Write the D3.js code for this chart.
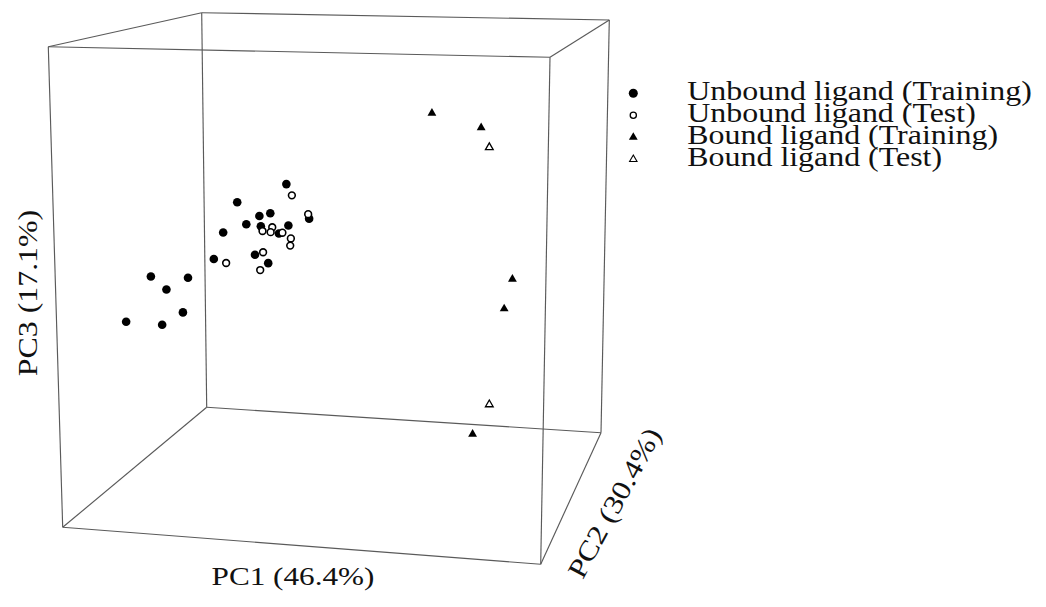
<!DOCTYPE html>
<html><head><meta charset="utf-8">
<script src="https://cdn.jsdelivr.net/npm/d3@7"></script>
<style>
  body { margin: 0; background: #fff; }
  svg text { font-family: 'Liberation Serif', 'Times New Roman', serif; fill: #111; }
</style>
</head><body>
<svg id="chart" width="1046" height="607"></svg>
<script>
// PCA scores [PC1, PC2, PC3] per group
const unboundTraining = [
  [-0.93, 0.40, 0.22], [-1.92, -0.40, -0.01], [-1.50, 0.00, -0.31], [-1.54, 0.80, -0.39],
  [-1.52, -0.80, -0.33], [-1.53, 0.16, -0.52], [-0.66, -0.16, -0.43], [-2.20, -0.64, -0.52],
  [-0.54, 0.96, -0.49], [-0.98, 0.00, -0.61], [-2.32, -0.96, -0.94], [-1.43, -0.48, -0.92],
  [-1.44, 0.40, -1.23], [-3.69, -1.60, -1.18], [-2.59, -1.92, -1.11], [-3.40, -1.36, -1.44],
  [-2.60, -2.24, -1.65], [-4.55, -1.20, -2.08], [-3.35, -1.76, -1.98]
];
const unboundTest = [
  [-0.88, 0.64, -0.02], [-0.19, 0.00, -0.24], [-1.06, -0.24, -0.46], [-1.52, 0.24, -0.62],
  [-1.04, -0.40, -0.52], [-1.08, 0.48, -0.68], [-0.38, -0.72, -0.56], [-1.00, 0.80, -0.97],
  [-1.41, 0.00, -0.96], [-1.93, -1.12, -0.97], [-1.36, -0.32, -1.22]
];
const boundTraining = [
  [2.62, 1.60, 1.43], [4.32, 0.40, 1.35], [5.50, -0.80, -1.08], [5.10, 0.00, -1.76], [3.55, 2.56, -4.73]
];
const boundTest = [
  [4.44, 0.80, 0.95], [4.19, 2.00, -3.99]
];

const legendLabels = ["Unbound ligand (Training)", "Unbound ligand (Test)",
                      "Bound ligand (Training)", "Bound ligand (Test)"];
const axisTitles = ["PC1 (46.4%)", "PC2 (30.4%)", "PC3 (17.1%)"];
const pc1Domain = [-5, 7], pc2Domain = [-4, 4], pc3Domain = [-5, 3];

// Box faces on screen (front = PC2 min, back = PC2 max)
const front = { tl: [48.3, 46.7], tr: [550, 57.3], bl: [62.7, 527.3], br: [540.7, 564.3] };
const back  = { tl: [201.7, 12.7], tr: [609.3, 20], bl: [206.7, 407.3], br: [601, 432.7] };

const sx = d3.scaleLinear().domain(pc1Domain).range([0, 1]);
const sy = d3.scaleLinear().domain(pc2Domain).range([0, 1]);
const sz = d3.scaleLinear().domain(pc3Domain).range([0, 1]);

const lerp = (a, b, t) => [a[0] + (b[0] - a[0]) * t, a[1] + (b[1] - a[1]) * t];
function project(d) {
  const u = sx(d[0]), v = sy(d[1]), w = sz(d[2]);
  const bf = lerp(front.bl, front.br, u), bb = lerp(back.bl, back.br, u);
  const tf = lerp(front.tl, front.tr, u), tb = lerp(back.tl, back.tr, u);
  return lerp(lerp(bf, bb, v), lerp(tf, tb, v), w);
}

const svg = d3.select("#chart");

// Bounding box edges
const X = pc1Domain, Y = pc2Domain, Z = pc3Domain;
const edges = [];
for (const y of Y) for (const z of Z) edges.push([[X[0], y, z], [X[1], y, z]]);
for (const x of X) for (const z of Z) edges.push([[x, Y[0], z], [x, Y[1], z]]);
for (const x of X) for (const y of Y) edges.push([[x, y, Z[0]], [x, y, Z[1]]]);
svg.append("g").selectAll("line").data(edges).join("line")
  .attr("x1", e => project(e[0])[0]).attr("y1", e => project(e[0])[1])
  .attr("x2", e => project(e[1])[0]).attr("y2", e => project(e[1])[1])
  .attr("stroke", "#5a5a5a").attr("stroke-width", 1.15);

// Marker styles
const styles = [
  { data: unboundTraining, type: d3.symbolCircle, size: 58, fill: "#000", stroke: "none", sw: 0 },
  { data: unboundTest, type: d3.symbolCircle, size: 36, fill: "#fff", stroke: "#000", sw: 1.6 },
  { data: boundTraining, type: d3.symbolTriangle, size: 34, fill: "#000", stroke: "none", sw: 0 },
  { data: boundTest, type: d3.symbolTriangle, size: 26, fill: "#fff", stroke: "#000", sw: 1.3 }
];

const pts = svg.append("g");
styles.forEach(s => {
  pts.append("g").selectAll("path").data(s.data).join("path")
    .attr("d", d3.symbol().type(s.type).size(s.size))
    .attr("transform", d => { const p = project(d); return `translate(${p[0]},${p[1]})`; })
    .attr("fill", s.fill).attr("stroke", s.stroke).attr("stroke-width", s.sw);
});

// Legend
const legendStyles = [
  { type: d3.symbolCircle, size: 64, fill: "#000", stroke: "none", sw: 0 },
  { type: d3.symbolCircle, size: 30, fill: "#fff", stroke: "#000", sw: 1.3 },
  { type: d3.symbolTriangle, size: 34, fill: "#000", stroke: "none", sw: 0 },
  { type: d3.symbolTriangle, size: 24, fill: "#fff", stroke: "#000", sw: 1.1 }
];
const ly = d3.scalePoint().domain(legendLabels).range([93.3, 159.3]);
const lg = svg.append("g").selectAll("g").data(legendLabels).join("g")
  .attr("transform", d => `translate(633.3,${ly(d)})`);
lg.append("path")
  .attr("d", (d, i) => d3.symbol().type(legendStyles[i].type).size(legendStyles[i].size)())
  .attr("fill", (d, i) => legendStyles[i].fill)
  .attr("stroke", (d, i) => legendStyles[i].stroke)
  .attr("stroke-width", (d, i) => legendStyles[i].sw);
lg.append("text")
  .attr("transform", "translate(54,6.3) scale(1.14,1)")
  .attr("font-size", 28)
  .text(d => d);

// Axis titles
svg.append("text")
  .attr("transform", "translate(293,585) scale(1.2,1)")
  .attr("text-anchor", "middle").attr("font-size", 26)
  .text(axisTitles[0]);
svg.append("text")
  .attr("transform", "translate(614.5,503) rotate(-61.5) scale(1.18,1)")
  .attr("text-anchor", "middle").attr("dy", "0.33em").attr("font-size", 27)
  .text(axisTitles[1]);
svg.append("text")
  .attr("transform", "translate(37,293) rotate(-90) scale(1.18,1)")
  .attr("text-anchor", "middle").attr("font-size", 27)
  .text(axisTitles[2]);
</script>
</body></html>
